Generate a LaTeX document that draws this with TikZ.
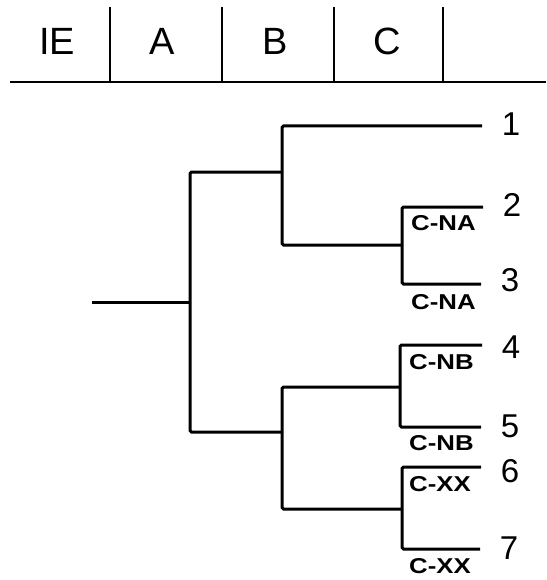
\documentclass[tikz,border=0pt]{standalone}
\usepackage{fontspec}
\setmainfont{Liberation Sans}
\newfontfamily\tagfont[FakeStretch=1.2]{Liberation Sans Bold}
\usetikzlibrary{positioning}

\tikzset{
  branch/.style={line width=3pt, rounded corners=1.5pt},
  head/.style={inner sep=0pt, font=\fontsize{38}{40}\selectfont},
  num/.style={inner sep=0pt, font=\fontsize{33}{35}\selectfont},
  tag/.style={inner sep=0pt, font=\tagfont\fontsize{21.5}{23}\selectfont}
}

\begin{document}
\begin{tikzpicture}[x=1pt, y=-1pt]
      \useasboundingbox (0,0) rectangle (546,580);

      % header row
      \draw (57,41.5) node[head] (hIE) {IE} (162,41.5) node[head] (hA) {A}
            (275,41.5) node[head] (hB) {B} (387,41.5) node[head] (hC) {C};
      \foreach \x [count=\k] in {110,222,334,443} {
        \coordinate (d\k) at (\x,7);
        \draw[line width=1.2pt] (d\k) -- (\x,82);
      }
      \coordinate (rl) at (10,82);
      \coordinate (rr) at (546,82);
      \draw[line width=1.8pt] (rl) -- (rr);

      % junctions
      \coordinate (R0) at (92,302);
      \coordinate (J0) at (190,302);
      \coordinate (J1) at (282,172);
      \coordinate (J2) at (402,245);
      \coordinate (J3) at (282,432);
      \coordinate (J4) at (400,387);
      \coordinate (J5) at (402,509);

      % leaves with their numbers
      \foreach \i/\x/\y/\dy in {1/482/126/-2, 2/483/207/-2, 3/481/284/-4, 4/482/345/2,
                                5/481/427/-1, 6/481/467/4, 7/480/549/-1} {
        \coordinate (L\i) at (\x,\y);
        \node[num] (n\i) at ([xshift=29pt, yshift=-\dy pt]L\i) {\i};
      }

      \draw[branch] (R0) -- (J0);
      \draw[branch] (J0) |- (J1);
      \draw[branch] (J0) |- (J3);
      \draw[branch] (J1) |- (L1);
      \draw[branch] (J1) |- (J2);
      \draw[branch] (J2) |- (L2);
      \draw[branch] (J2) |- (L3);
      \draw[branch] (J3) |- (J4);
      \draw[branch] (J4) |- (L4);
      \draw[branch] (J4) |- (L5);
      \draw[branch] (J3) |- (J5);
      \draw[branch] (J5) |- (L6);
      \draw[branch] (J5) |- (L7);

      % tags below the leaf lines
      \coordinate (S2) at (J2 |- L2);
      \coordinate (S3) at (J2 |- L3);
      \coordinate (S4) at (J4 |- L4);
      \coordinate (S5) at (J4 |- L5);
      \coordinate (S6) at (J5 |- L6);
      \coordinate (S7) at (J5 |- L7);
      \node[tag, below right=8.5pt and 9pt of S2] (t2) {C-NA};
      \node[tag, below right=10.5pt and 9pt of S3] (t3) {C-NA};
      \node[tag, below right=9.5pt and 9pt of S4] (t4) {C-NB};
      \node[tag, below right=8.5pt and 9pt of S5] (t5) {C-NB};
      \node[tag, below right=9.5pt and 7pt of S6] (t6) {C-XX};
      \node[tag, below right=9pt and 7pt of S7] (t7) {C-XX};
    \end{tikzpicture}
\end{document}
